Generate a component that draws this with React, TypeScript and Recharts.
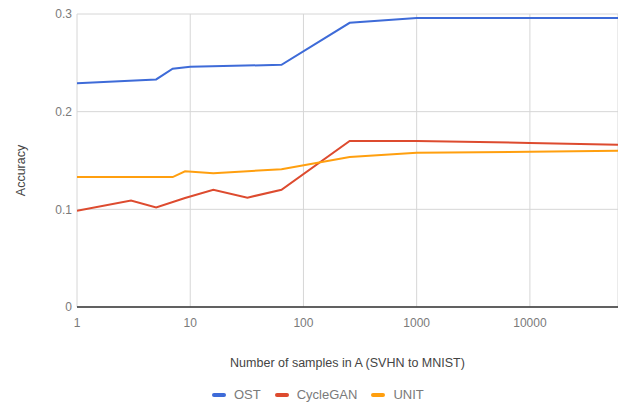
import React from "react";
import { LineChart, Line, XAxis, YAxis, CartesianGrid, Label, ReferenceLine } from "recharts";

// samples in A (x) and accuracy
const ostX = [1, 5, 7, 10, 64, 256, 1000, 60000];
const ostY = [0.229, 0.233, 0.244, 0.246, 0.248, 0.291, 0.296, 0.296];

const cycleX = [1, 3, 5, 9, 16, 32, 64, 256, 1000, 10000, 60000];
const cycleY = [0.0986, 0.109, 0.102, 0.1116, 0.12, 0.112, 0.12, 0.17, 0.17, 0.168, 0.166];

const unitX = [1, 7, 9, 16, 64, 256, 1000, 10000, 60000];
const unitY = [0.133, 0.133, 0.139, 0.137, 0.141, 0.1535, 0.158, 0.159, 0.16];

const xTicks = [1, 10, 100, 1000, 10000];
const yTicks = [0, 0.1, 0.2, 0.3];

const series = [
  { name: "OST", color: "#3e6bd8", xs: ostX, ys: ostY },
  { name: "CycleGAN", color: "#dd4b2f", xs: cycleX, ys: cycleY },
  { name: "UNIT", color: "#ff9f0f", xs: unitX, ys: unitY },
];

const toRows = (xs: number[], ys: number[]) => xs.map((x, i) => ({ x, y: ys[i] }));

const font = "Arial, 'Liberation Sans', sans-serif";
const tickStyle = { fill: "#7a7a7a", fontSize: 12, fontFamily: font };

export default function App() {
  return (
    <div style={{ position: "absolute", left: 0, top: 0, width: 618, height: 404, background: "#fff" }}>
      <LineChart width={618} height={404} margin={{ top: 14, right: 0, left: 0, bottom: 27 }}>
        <CartesianGrid stroke="#d6d6d6" strokeWidth={1} />
        <XAxis
          dataKey="x"
          type="number"
          scale="log"
          domain={[1, 60000]}
          ticks={xTicks}
          allowDataOverflow
          axisLine={false}
          tickLine={false}
          tickSize={0}
          tickMargin={11}
          tick={tickStyle}
          height={70}
        >
          <Label
            value="Number of samples in A (SVHN to MNIST)"
            position="insideBottom"
            offset={10}
            style={{ fill: "#444", fontSize: 12.5, fontFamily: font }}
          />
        </XAxis>
        <YAxis
          type="number"
          domain={[0, 0.3]}
          ticks={yTicks}
          axisLine={false}
          tickLine={false}
          tickSize={0}
          tickMargin={5}
          tick={tickStyle}
          tickFormatter={(v: number) => (v === 0 ? "0" : String(v))}
          width={77}
        >
          <Label
            value="Accuracy"
            angle={-90}
            position="insideLeft"
            offset={21}
            dy={10}
            style={{ fill: "#444", fontSize: 12.5, fontFamily: font, textAnchor: "middle" }}
          />
        </YAxis>
        <ReferenceLine y={0} stroke="#333" strokeWidth={1.5} />
        {series.map((s) => (
          <Line
            key={s.name}
            data={toRows(s.xs, s.ys)}
            dataKey="y"
            name={s.name}
            stroke={s.color}
            strokeWidth={2}
            dot={false}
            type="linear"
            isAnimationActive={false}
          />
        ))}
      </LineChart>
      <div
        style={{
          position: "absolute",
          top: 387,
          left: 212,
          display: "flex",
          fontFamily: font,
          fontSize: 13,
          lineHeight: "15px",
          color: "#7a7a7a",
        }}
      >
        {series.map((s) => (
          <div key={s.name} style={{ display: "flex", alignItems: "center", marginRight: 14 }}>
            <span style={{ width: 14, height: 4, borderRadius: 2, background: s.color, marginRight: 8 }} />
            <span>{s.name}</span>
          </div>
        ))}
      </div>
    </div>
  );
}
